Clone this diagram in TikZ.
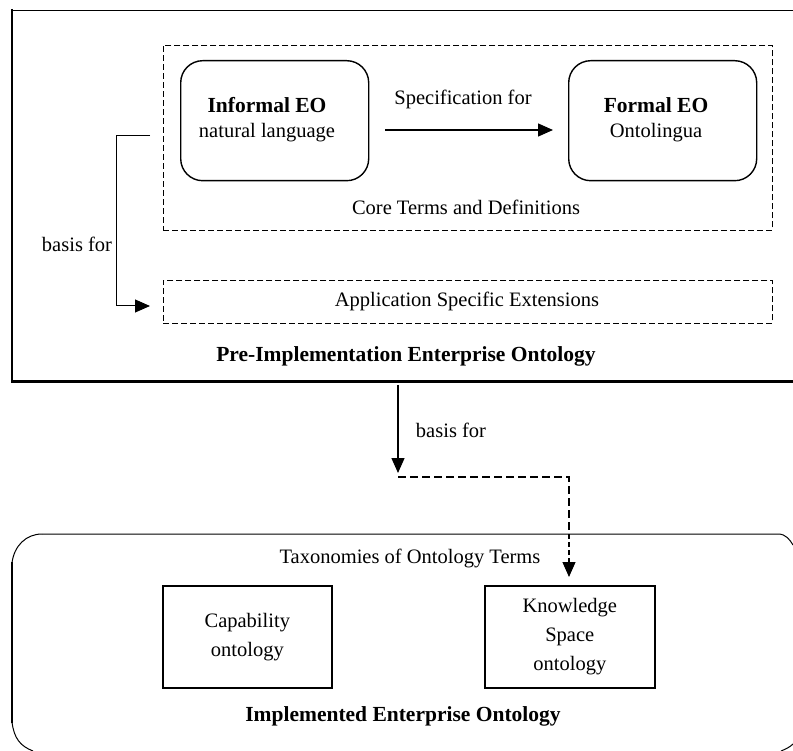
\documentclass[tikz,border=0pt]{standalone}
\usepackage{fontspec}
\setmainfont{Liberation Serif}
\usetikzlibrary{arrows.meta,calc}
\begin{document}
\begin{tikzpicture}[x=1pt,y=-1pt,
  txt/.style={font=\fontsize{20.5}{24}\selectfont, inner sep=0pt, align=center},
  btxt/.style={font=\fontsize{21.5}{25}\selectfont\bfseries, inner sep=0pt, align=center},
  dashbox/.style={draw, line width=0.9pt, dash pattern=on 6pt off 3pt, inner sep=0pt},
  roundbox/.style={draw, line width=1.4pt, rounded corners=22pt, inner sep=0pt, align=center},
  plainbox/.style={draw, line width=1.6pt, inner sep=0pt, align=center},
  flow/.style={line width=1.4pt, -{Triangle[length=15pt,width=13pt]}},
  dflow/.style={line width=2.8pt, dash pattern=on 8pt off 4pt},
  dflowtip/.style={line width=1.1pt, dash pattern=on 5pt off 3pt, -{Triangle[length=15pt,width=13pt]}}
]
\useasboundingbox (0,0) rectangle (793,751);
\fill[white] (0,0) rectangle (793,751);

% upper frame: pre-implementation ontology
\draw[line width=0.8pt] (12,10) -- (793,10);
\draw[line width=2.4pt] (12,9) -- (12,383);
\draw[line width=3pt] (11,382) -- (793,382);

% core terms and definitions
\node[dashbox, minimum width=609pt, minimum height=185pt, anchor=north west] (core) at (163,45) {};
\node[roundbox, minimum width=188pt, minimum height=120pt, anchor=north west] (informal) at (180,60) {};
\node[btxt] (informalT) at (267,105) {Informal EO};
\node[txt] (informalS) at (267,133) {natural language};
\node[roundbox, minimum width=188pt, minimum height=120pt, anchor=north west] (formal) at (568,60) {};
\node[btxt] (formalT) at (656,105) {Formal EO};
\node[txt] (formalS) at (656,133) {Ontolingua};
\node[txt] (coreT) at (466,207) {Core Terms and Definitions};

\coordinate (specA) at (385,130);
\coordinate (specB) at (553,130);
\draw[flow] (specA) -- (specB);
\node[txt] (specL) at (463,99) {Specification for};

% application specific extensions
\node[dashbox, minimum width=609pt, minimum height=43pt, anchor=north west] (app) at (163,280) {};
\node[txt] (appT) at (467,301) {Application Specific Extensions};

% basis-for bracket on the left
\coordinate (bstart) at (150,136);
\coordinate (bend) at (150,306);
\draw[flow, line width=1pt] (bstart) -- (116,136) -- (116,306) -- (bend);
\node[txt] (basisL) at (77,244) {basis for};

\node[btxt] (preT) at (406,356) {Pre-Implementation Enterprise Ontology};

% link down to the implemented ontology
\coordinate (dtop) at (398,385);
\coordinate (dbot) at (398,473);
\draw[flow] (dtop) -- (dbot);
\node[txt] (basis2) at (451,430) {basis for};

% lower frame: implemented ontology
\draw[line width=1pt] (42,534) -- (778,534) .. controls (786,534) and (790,540) .. (793,545);
\draw[line width=1pt] (12,563) .. controls (14,546) and (26,534) .. (42,534);
\draw[line width=2.2pt] (12,562) -- (12,723);
\draw[line width=1pt] (12,722) .. controls (14,738) and (20,746) .. (33,751);
\draw[line width=1pt] (781,751) .. controls (786,749) and (790,747) .. (793,744);
\node[txt] (taxT) at (410,558) {Taxonomies of Ontology Terms};

\node[plainbox, minimum width=169pt, minimum height=102pt, anchor=north west] (cap) at (162,585) {};
\node[txt] (capT) at (cap.center) {Capability\\[5pt]ontology};
\node[plainbox, minimum width=170pt, minimum height=102pt, anchor=north west] (know) at (484,585) {};
\node[txt] (knowT) at (know.center) {Knowledge\\[5pt]Space\\[5pt]ontology};

\node[btxt] (implT) at (403,716) {Implemented Enterprise Ontology};

% dashed basis-for route into the knowledge space ontology
\coordinate (dstart) at (398,477);
\coordinate (dcorner) at (569,477);
\coordinate (dmid) at (569,534);
\coordinate (dtip) at (569,577);
\draw[dflow] (dstart) -- (dcorner) -- (dmid);
\draw[dflowtip] (dmid) -- (dtip);
\end{tikzpicture}
\end{document}
